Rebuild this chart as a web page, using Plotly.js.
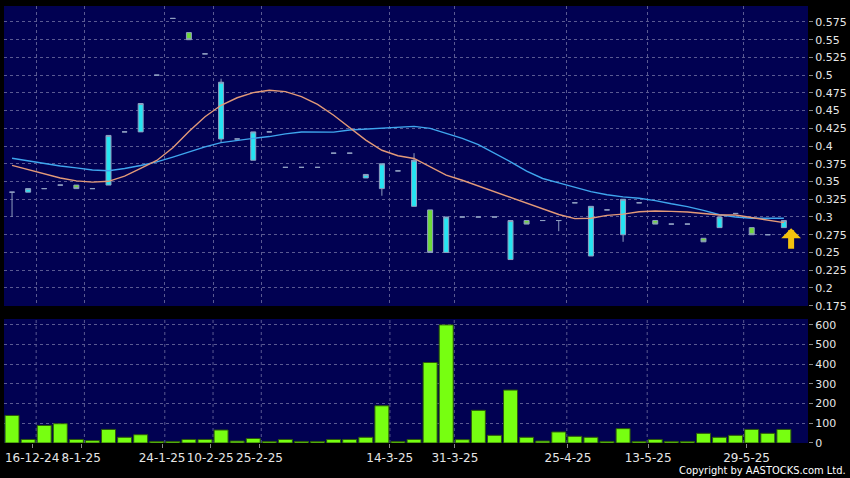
<!DOCTYPE html>
<html>
<head>
<meta charset="utf-8">
<script src="https://cdn.plot.ly/plotly-3.0.1.min.js"></script>
<style>
  html, body { margin: 0; padding: 0; background: #000; }
  #chart { width: 850px; height: 478px; }
</style>
</head>
<body>
<div id="chart"></div>
<script>
// ---- data ----
const openP  = [0.335,0.335,0.34,0.345,0.345,0.34,0.345,0.42,0.42,0.50,0.58,0.56,0.53,0.41,0.41,0.38,0.42,0.37,0.37,0.37,0.39,0.39,0.355,0.34,0.365,0.315,0.31,0.25,0.30,0.30,0.30,0.24,0.295,0.295,0.295,0.32,0.245,0.31,0.275,0.32,0.295,0.29,0.29,0.27,0.285,0.305,0.285,0.275,0.285];
const highP  = [0.335,0.34,0.34,0.345,0.345,0.34,0.415,0.42,0.46,0.50,0.58,0.56,0.53,0.495,0.41,0.42,0.42,0.37,0.37,0.37,0.39,0.39,0.36,0.375,0.365,0.39,0.31,0.30,0.30,0.30,0.30,0.295,0.295,0.295,0.295,0.32,0.315,0.31,0.325,0.32,0.295,0.29,0.29,0.27,0.30,0.305,0.285,0.275,0.295];
const lowP   = [0.30,0.335,0.34,0.345,0.34,0.34,0.345,0.42,0.42,0.50,0.58,0.55,0.53,0.405,0.41,0.38,0.42,0.37,0.37,0.37,0.39,0.39,0.355,0.33,0.365,0.315,0.25,0.25,0.30,0.30,0.30,0.24,0.29,0.295,0.28,0.32,0.245,0.31,0.265,0.32,0.29,0.29,0.29,0.265,0.285,0.305,0.275,0.275,0.285];
const closeP = [0.335,0.34,0.34,0.345,0.34,0.34,0.415,0.42,0.46,0.50,0.58,0.55,0.53,0.49,0.41,0.42,0.42,0.37,0.37,0.37,0.39,0.39,0.36,0.375,0.365,0.38,0.25,0.30,0.30,0.30,0.30,0.295,0.29,0.295,0.295,0.32,0.315,0.31,0.325,0.32,0.29,0.29,0.29,0.265,0.30,0.305,0.275,0.275,0.295];
const maShort = [0.3728,0.3668,0.3609,0.3550,0.3509,0.3492,0.3503,0.3577,0.3684,0.3797,0.3976,0.4204,0.4414,0.4575,0.4681,0.4754,0.4787,0.4768,0.4697,0.4588,0.4434,0.4257,0.4084,0.3941,0.3864,0.3825,0.3705,0.3591,0.3518,0.3439,0.3358,0.3276,0.3202,0.3121,0.3035,0.2977,0.2983,0.3023,0.3041,0.3073,0.3085,0.3079,0.3071,0.3049,0.3028,0.3028,0.2989,0.2949,0.2920];
const maLong  = [0.3828,0.3793,0.3749,0.3719,0.3692,0.3663,0.3652,0.3683,0.3726,0.3777,0.3845,0.3921,0.3989,0.4049,0.4083,0.4108,0.4134,0.4172,0.4199,0.4197,0.4196,0.4227,0.4241,0.4257,0.4266,0.4278,0.4249,0.4182,0.4108,0.4021,0.3905,0.3778,0.3647,0.3543,0.3481,0.3419,0.3358,0.3314,0.3283,0.3264,0.3231,0.3186,0.3147,0.3093,0.3032,0.2999,0.2982,0.2982,0.2982];
const volume  = [140,18,89,98,18,12,69,29,42,8,8,18,18,66,10,23,8,18,8,8,18,18,29,189,8,18,409,600,17,166,39,269,29,10,56,34,29,8,73,8,18,8,8,49,29,39,69,49,69];
const gridPos        = [1.5,4.5,9.5,12.5,15.5,23.5,27.5,34.5,39.5,45.5];
const dateTickPos    = [1.25,4.3,9.33,12.32,15.39,23.49,27.54,34.57,39.56,45.68];
const dateTickLabels = ['16-12-24','8-1-25','24-1-25','10-2-25','25-2-25','14-3-25','31-3-25','25-4-25','13-5-25','29-5-25'];
const priceTicks = [0.175,0.2,0.225,0.25,0.275,0.3,0.325,0.35,0.375,0.4,0.425,0.45,0.475,0.5,0.525,0.55,0.575];
const volTicks = [0,100,200,300,400,500,600];
const lastPrice = 0.295;

// ---- build ----
const idx = openP.map((_, i) => i);
const gridCol = '#5a5a92';
const lblFont = {family: 'DejaVu Sans, Verdana, sans-serif', size: 11, color: '#e6e6e6'};

const traces = [
  {
    type: 'candlestick', x: idx, open: openP, high: highP, low: lowP, close: closeP,
    xaxis: 'x', yaxis: 'y', hoverinfo: 'skip', whiskerwidth: 0,
    increasing: {line: {color: '#8f9fc0', width: 1}, fillcolor: '#25e4f2'},
    decreasing: {line: {color: '#8f9fc0', width: 1}, fillcolor: '#6fd83a'},
    showlegend: false
  },
  {
    type: 'scatter', mode: 'lines', x: idx, y: maLong, xaxis: 'x', yaxis: 'y',
    line: {color: '#3fa6ee', width: 1.4}, hoverinfo: 'skip', showlegend: false
  },
  {
    type: 'scatter', mode: 'lines', x: idx, y: maShort, xaxis: 'x', yaxis: 'y',
    line: {color: '#e39a78', width: 1.4}, hoverinfo: 'skip', showlegend: false
  },
  {
    type: 'bar', x: idx, y: volume, xaxis: 'x2', yaxis: 'y2', width: 0.87,
    marker: {color: '#77ff11', line: {color: '#2d5a0a', width: 1}},
    hoverinfo: 'skip', showlegend: false
  }
];

// vertical dashed gridlines of the volume panel (same positions as the price panel's)
const volGridShapes = gridPos.map(g => ({
  type: 'line', layer: 'below', xref: 'x2', yref: 'y2 domain',
  x0: g, x1: g, y0: 0, y1: 1,
  line: {color: gridCol, width: 1, dash: '3px,3px'}
}));

const layout = {
  width: 850, height: 478,
  paper_bgcolor: '#000000', plot_bgcolor: '#010152',
  margin: {l: 4, r: 42, t: 6, b: 35},
  showlegend: false,
  xaxis: {
    anchor: 'y', range: [-0.5, 49.5], tickvals: gridPos, showticklabels: false, ticks: '',
    showgrid: true, gridcolor: gridCol, griddash: '3px,3px', gridwidth: 1,
    zeroline: false, showline: false, fixedrange: true, rangeslider: {visible: false}
  },
  xaxis2: {
    anchor: 'y2', range: [-0.5, 49.5],
    tickvals: dateTickPos, ticktext: dateTickLabels, showgrid: false,
    ticks: 'outside', ticklen: 4, tickcolor: '#888', tickangle: 0,
    tickfont: {family: 'DejaVu Sans, Verdana, sans-serif', size: 12, color: '#e6e6e6'},
    zeroline: false, showline: false, fixedrange: true
  },
  yaxis: {
    domain: [0.3135, 1], range: [0.1745, 0.5975], side: 'right', anchor: 'x',
    tickvals: priceTicks, ticktext: priceTicks.map(v => String(v)),
    ticks: 'outside', ticklen: 4, tickcolor: '#888', tickfont: lblFont,
    showgrid: true, gridcolor: gridCol, griddash: '3px,3px', gridwidth: 1,
    zeroline: false, showline: false, fixedrange: true
  },
  yaxis2: {
    domain: [0, 0.2838], range: [0, 630], side: 'right', anchor: 'x2',
    tickvals: volTicks, ticks: 'outside', ticklen: 4, tickcolor: '#888', tickfont: lblFont,
    showgrid: true, gridcolor: gridCol, griddash: '3px,3px', gridwidth: 1,
    zeroline: false, showline: false, fixedrange: true
  },
  boxgap: 0.69,
  boxgroupgap: 0,
  shapes: volGridShapes,
  annotations: [
    {
      x: idx[idx.length - 1] + 0.45, y: lastPrice - 0.011, xref: 'x', yref: 'y',
      showarrow: true, ax: 0, ay: 22, axref: 'pixel', ayref: 'pixel',
      arrowhead: 1, arrowsize: 0.55, arrowwidth: 6, arrowcolor: '#f4c20d', standoff: 0, text: ''
    },
    {
      text: 'Copyright by AASTOCKS.com Ltd.', xref: 'paper', yref: 'paper',
      x: 1.05, y: -0.063, xanchor: 'right', yanchor: 'middle', showarrow: false,
      font: {family: 'DejaVu Sans Condensed, Liberation Sans Narrow, DejaVu Sans, sans-serif', size: 11, color: '#ffffff'}
    }
  ]
};

Plotly.newPlot('chart', traces, layout, {staticPlot: true, displayModeBar: false});
</script>
</body>
</html>
